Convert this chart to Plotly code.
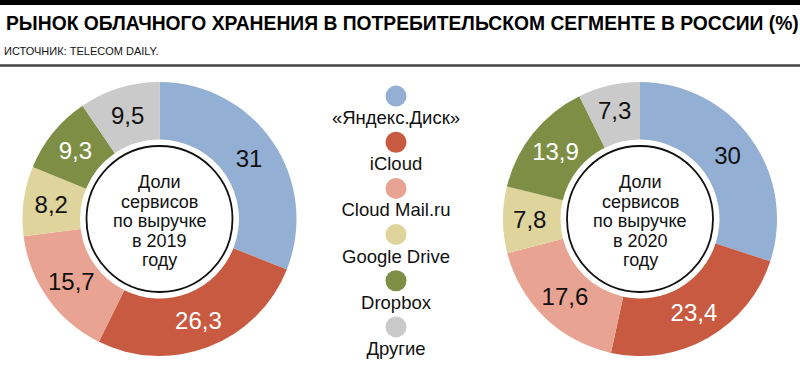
import plotly.graph_objects as go

categories = ["«Яндекс.Диск»", "iCloud", "Cloud Mail.ru", "Google Drive", "Dropbox", "Другие"]
values_2019 = [31, 26.3, 15.7, 8.2, 9.3, 9.5]
values_2020 = [30, 23.4, 17.6, 7.8, 13.9, 7.3]
colors = ["#94AFD4", "#C95A42", "#E9A392", "#E0D49D", "#7E8F45", "#CBCACB"]
text_colors = ["#111111", "#FFFFFF", "#111111", "#111111", "#FFFFFF", "#111111"]
center_2019 = ["Доли", "сервисов", "по выручке", "в 2019", "году"]
center_2020 = ["Доли", "сервисов", "по выручке", "в 2020", "году"]
title = "РЫНОК ОБЛАЧНОГО ХРАНЕНИЯ В ПОТРЕБИТЕЛЬСКОМ СЕГМЕНТЕ В РОССИИ (%)"
source = "ИСТОЧНИК: TELECOM DAILY."

W, H = 800, 376
def px_x(v): return v / W
def px_y(v): return 1 - v / H

def fmt(v):
    return f"{v:g}".replace(".", ",")

fig = go.Figure()
shapes = [
    dict(type="rect", xref="paper", yref="paper", x0=0, x1=1, y0=px_y(5), y1=1,
         fillcolor="#000000", line=dict(width=0)),
    dict(type="line", xref="paper", yref="paper", x0=0, x1=1, y0=px_y(65.5), y1=px_y(65.5),
         line=dict(color="#444444", width=2.5)),
]

pies = [(values_2019, 159.5, center_2019),
        (values_2020, 640, center_2020)]
CY, R = 219, 137
for vals, cxp, lines in pies:
    fig.add_trace(go.Pie(
        values=vals, labels=categories, text=[fmt(v) for v in vals],
        textinfo="text", textposition="inside", insidetextorientation="horizontal",
        sort=False, direction="clockwise", rotation=0, hole=0.58,
        marker=dict(colors=colors, line=dict(width=0)),
        textfont=dict(family="Liberation Sans, Arial, sans-serif", size=24, color=text_colors),
        domain=dict(x=[px_x(cxp - R), px_x(cxp + R)], y=[px_y(CY + R), px_y(CY - R)]),
        showlegend=False, hoverinfo="label+value",
    ))
    cx = px_x(cxp)
    cy = px_y(CY)
    shapes.append(dict(type="circle", xref="paper", yref="paper", xsizemode="pixel", ysizemode="pixel",
                       xanchor=cx, yanchor=cy, x0=-73, x1=73, y0=-73, y1=73,
                       line=dict(color="#111111", width=1.8), fillcolor="rgba(0,0,0,0)"))
    n = len(lines)
    for i, line in enumerate(lines):
        fig.add_annotation(x=cx, y=cy, xref="paper", yref="paper", text=line, showarrow=False,
                           yshift=-(i - (n - 1) / 2) * 19.5 - 2,
                           font=dict(family="Liberation Sans, Arial, sans-serif", size=18, color="#111111"),
                           xanchor="center", yanchor="middle", align="center")

# legend as markers on a categorical axis
fig.add_trace(go.Scatter(
    x=[0] * len(categories), y=categories, mode="markers+text",
    text=categories, textposition="bottom center", cliponaxis=False,
    marker=dict(size=21, color=colors, line=dict(width=0)),
    textfont=dict(family="Liberation Sans, Arial, sans-serif", size=18.5, color="#111111"),
    showlegend=False, hoverinfo="skip", xaxis="x", yaxis="y",
))

fig.update_layout(
    width=W, height=H, margin=dict(l=0, r=0, t=0, b=0),
    paper_bgcolor="white", plot_bgcolor="rgba(0,0,0,0)",
    xaxis=dict(domain=[px_x(316), px_x(476)], range=[-1, 1], visible=False, fixedrange=True),
    yaxis=dict(domain=[px_y(350), px_y(73)], type="category", categoryorder="array",
               categoryarray=categories, range=[5.5, -0.5], visible=False, fixedrange=True),
    shapes=shapes,
)
fig.add_annotation(x=px_x(4), y=px_y(23), xref="paper", yref="paper", text=f"<b>{title}</b>",
                   showarrow=False, xanchor="left", yanchor="middle",
                   font=dict(family="Liberation Sans, Arial, sans-serif", size=19.3, color="#000000"))
fig.add_annotation(x=px_x(2), y=px_y(51), xref="paper", yref="paper", text=source,
                   showarrow=False, xanchor="left", yanchor="middle",
                   font=dict(family="Liberation Sans, Arial, sans-serif", size=11, color="#111111"))

fig.write_html("out.html", config={"displayModeBar": False},
               post_script="document.body.style.margin='0';document.body.style.overflow='hidden';")
